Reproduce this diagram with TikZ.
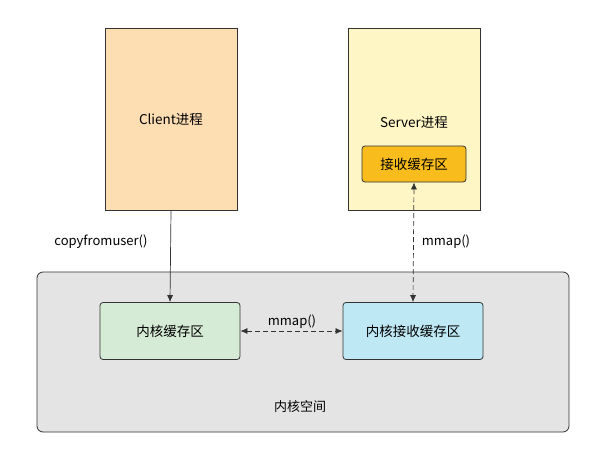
\documentclass[tikz,border=0pt]{standalone}
\usepackage{fontspec}
\setmainfont{Noto Sans CJK SC}
\usetikzlibrary{arrows.meta}
\definecolor{clientc}{HTML}{FDDDB2}
\definecolor{serverc}{HTML}{FFF6C6}
\definecolor{recvc}{HTML}{F8BD1C}
\definecolor{kernc}{HTML}{E4E4E4}
\definecolor{greenc}{HTML}{D6EBD6}
\definecolor{bluec}{HTML}{BEE8F4}
\begin{document}
\begin{tikzpicture}[x=1pt,y=-1pt,
  box/.style={draw=black!80,line width=0.8pt,font=\fontsize{13.5}{15}\selectfont},
  lbl/.style={font=\fontsize{13}{15}\selectfont},
  arr/.style={-{Latex[length=7pt,width=6pt]},line width=0.7pt,draw=black!80},
  darr/.style={{Latex[length=7pt,width=6pt]}-{Latex[length=7pt,width=6pt]},dash pattern=on 5pt off 3pt,line width=0.7pt,draw=black!80}]
\useasboundingbox[fill=white] (0,0) rectangle (600,461);
\node[box,fill=kernc,rounded corners=6pt,minimum width=532pt,minimum height=160pt] (kern) at (303,352) {};
\node[lbl] (kernl) at (300,407) {内核空间};
\node[box,fill=clientc,minimum width=132pt,minimum height=182pt] (client) at (171,119) {Client进程};
\node[box,fill=serverc,minimum width=132pt,minimum height=182pt] (server) at (414,119) {};
\node[box,draw=none] (serverl) at (414,122) {Server进程};
\node[box,fill=recvc,rounded corners=3pt,minimum width=104pt,minimum height=36pt] (recv) at (414,164) {接收缓存区};
\node[box,fill=greenc,rounded corners=3pt,minimum width=140pt,minimum height=57pt] (kb) at (170,331) {内核缓存区};
\node[box,fill=bluec,rounded corners=3pt,minimum width=140pt,minimum height=57pt] (krb) at (413,331) {内核接收缓存区};
\draw[arr] (client.south) -- (kb.north);
\draw[darr] (recv.south) -- (krb.north);
\draw[darr] (kb.east) -- (krb.west);
\node[lbl] (l1) at (101,242) {copyfromuser()};
\node[lbl] (l2) at (446,242) {mmap()};
\node[lbl] (l3) at (292,322) {mmap()};
\end{tikzpicture}
\end{document}
